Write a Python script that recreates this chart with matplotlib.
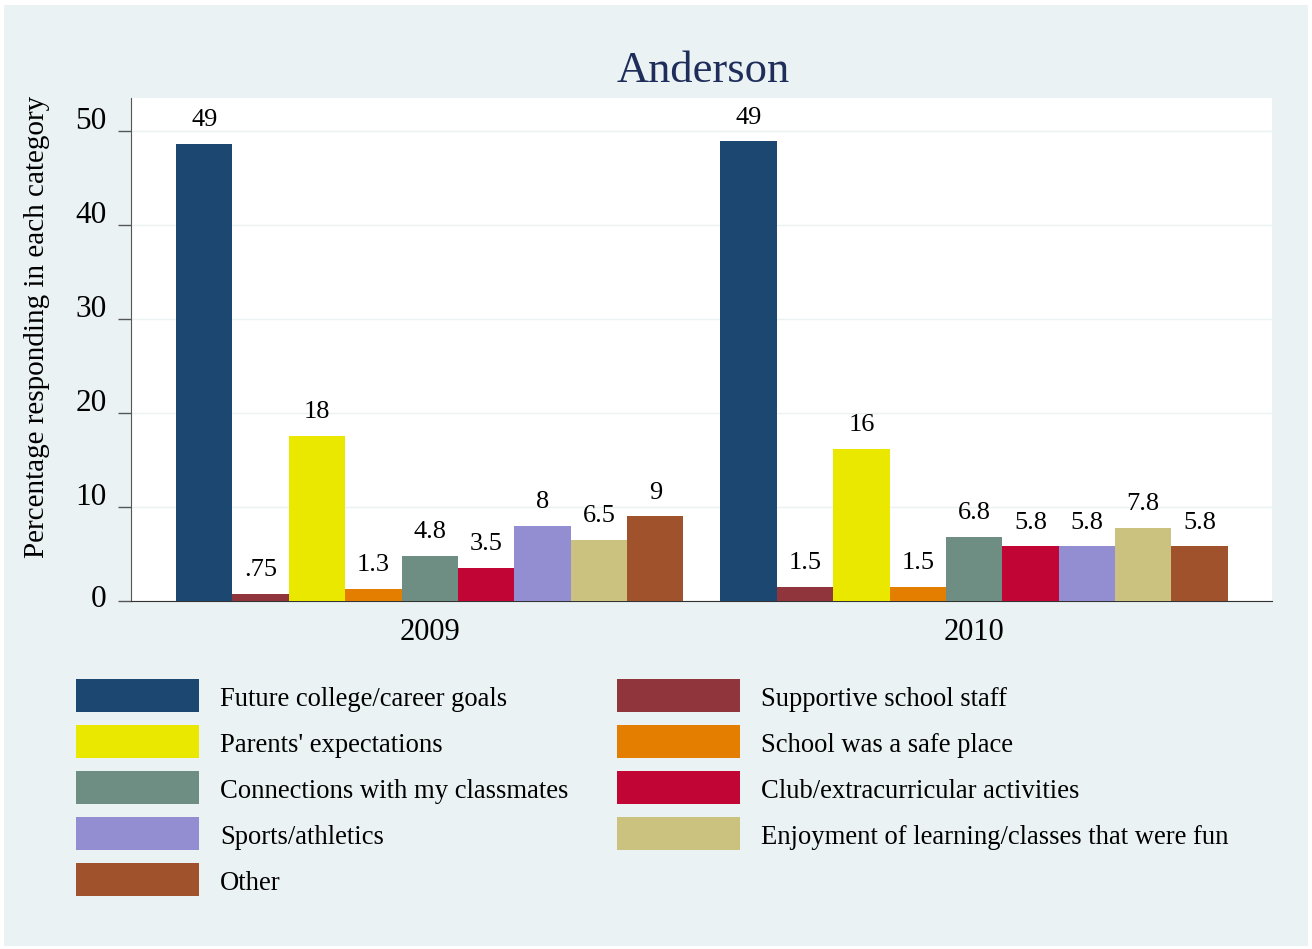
# Anderson - motivos por anio (estilo Stata s2color)
import numpy as np
import matplotlib
matplotlib.use("Agg")
import matplotlib.pyplot as plt
from matplotlib.patches import Rectangle
from matplotlib.transforms import ScaledTranslation

# Datos --------------------------------------------------------------------
anios = ["2009", "2010"]
categorias = [
    "Future college/career goals",
    "Supportive school staff",
    "Parents' expectations",
    "School was a safe place",
    "Connections with my classmates",
    "Club/extracurricular activities",
    "Sports/athletics",
    "Enjoyment of learning/classes that were fun",
    "Other",
]
valores_2009 = [48.6, 0.75, 17.6, 1.3, 4.8, 3.5, 8.0, 6.5, 9.0]
valores_2010 = [48.9, 1.5, 16.2, 1.5, 6.8, 5.8, 5.8, 7.8, 5.8]
colores = ["#1c4770", "#90353b", "#ebe800", "#e37e00", "#6e8e84",
           "#c10534", "#938dd2", "#cac27e", "#a0522d"]

W, H = 1312, 949
plt.rcParams["font.family"] = ["Liberation Serif", "DejaVu Serif"]

def fmt(v):
    # imita el formato %9.2g de Stata
    s = f"{v:.2g}"
    if s.startswith("0."):
        s = s[1:]
    return s

fig = plt.figure(figsize=(W / 100, H / 100), dpi=100)
fig.patch.set_facecolor("white")
fig.patches.append(Rectangle((4 / W, 3 / H), (W - 8) / W, (H - 8) / H,
                             transform=fig.transFigure, facecolor="#eaf2f3",
                             edgecolor="none", zorder=-10))

ax = fig.add_axes([131 / W, (H - 601) / H, (1272 - 131) / W, (601 - 98) / H])
ax.set_facecolor("white")

gap = 0.656
n = len(categorias)
centros = []
for g, vals in enumerate([valores_2009, valores_2010]):
    x = np.arange(n) + g * (n + gap)
    ax.bar(x, vals, width=1.0, color=colores, edgecolor="none", zorder=3)
    for xi, v in zip(x, vals):
        ax.annotate(fmt(v), (xi, v), xytext=(0, 17), textcoords="offset points",
                    ha="center", va="center", fontsize=19, color="black")
    centros.append(x.mean())

ax.set_xlim(-1.3, 18.94)
ax.set_ylim(0, 53.5)
ax.set_yticks([0, 10, 20, 30, 40, 50])
ax.set_xticks(centros)
ax.set_xticklabels(anios, fontsize=22)
ax.tick_params(axis="x", length=0, pad=12)
ax.tick_params(axis="y", length=9.4, width=1, color="#555555", labelsize=22.5, pad=8)
# las etiquetas del eje y van un poco por encima de la marca, como en Stata
for lab, v in zip(ax.get_yticklabels(), [0, 10, 20, 30, 40, 50]):
    dy = 5 if v == 0 else 13
    lab.set_transform(lab.get_transform() + ScaledTranslation(0, dy / 100, fig.dpi_scale_trans))
ax.grid(axis="y", color="#eaf2f3", linewidth=1, zorder=0)
for s in ["top", "right"]:
    ax.spines[s].set_visible(False)
ax.spines["left"].set_color("#555555")
ax.spines["bottom"].set_color("#333333")
ax.set_ylabel("Percentage responding in each category", fontsize=21)
ax.yaxis.set_label_coords((37 - 131) / 1141, (601 - 326.5) / 503)
ax.yaxis.label.set_va("center")

fig.text(703 / W, 1 - 71 / H, "Anderson", ha="center", va="center",
         fontsize=32, color="#1e2d5a")

# Leyenda manual en dos columnas ----------------------------------------------
for i, (lab, col) in enumerate(zip(categorias, colores)):
    fila, columna = divmod(i, 2)
    xk = 76 if columna == 0 else 617
    yc = 695 + fila * 46
    fig.patches.append(Rectangle((xk / W, 1 - (yc + 16.5) / H), 123 / W, 33 / H,
                                 transform=fig.transFigure, facecolor=col,
                                 edgecolor="none"))
    fig.text((xk + 144) / W, 1 - (yc + 4) / H, lab, ha="left", va="center",
             fontsize=19.2, color="black")

fig.savefig("out.png", dpi=100)
